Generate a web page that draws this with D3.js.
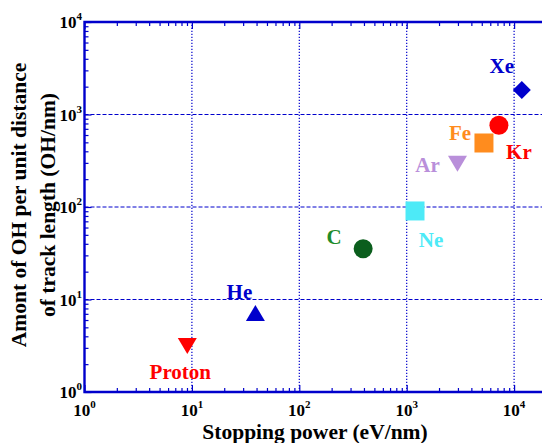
<!DOCTYPE html>
<html>
<head>
<meta charset="utf-8">
<script src="https://cdn.jsdelivr.net/npm/d3@7"></script>
<style>
  html, body { margin: 0; padding: 0; background: #fff; overflow: hidden; }
  svg { display: block; }
  text { font-family: "Liberation Serif", "Times New Roman", serif; font-weight: bold; }
</style>
</head>
<body>
<svg id="chart" width="542" height="443"></svg>
<script>
// ---- data ----
const ions = ["Proton", "He", "C", "Ne", "Ar", "Fe", "Kr", "Xe"];
const stoppingPower = [9.06, 39, 393, 1195, 2970, 5240, 7220, 11800];   // eV/nm
const ohPerDistance = [3.14, 7.15, 35.4, 90.6, 293, 492, 764, 1841];    // OH/nm
const markerShapes = ["triangleDown", "triangleUp", "circle", "square", "triangleDown", "square", "circle", "diamond"];
const markerColors = ["#ff0000", "#0000cc", "#0b5e1d", "#4deaf7", "#b98fda", "#ff8c1e", "#ff0000", "#0000cc"];
const labelColors  = ["#ff0000", "#0000cc", "#1e8c2a", "#4deaf7", "#b98fda", "#ff8c1e", "#ff0000", "#0000cc"];
const decadeTicks = [1, 10, 100, 1000, 10000];
const decadeExponents = ["0", "1", "2", "3", "4"];
const xTitle = "Stopping power (eV/nm)";
const yTitleLines = ["Amont of OH per unit distance", "of track length (OH/nm)"];

// ---- layout (not data) ----
const labelOffsets = [[-7, 33], [-16, -14], [-29, -5], [16, 36], [-30, 8], [-24, -3], [20, 34], [-20, -17]];
const blue = "#0000cc";

const svg = d3.select("#chart");
const x = d3.scaleLog().domain([1, 2e4]).range([84.5, 84.5 + 107.4 * Math.log10(2e4)]);
const y = d3.scaleLog().domain([1, 1e4]).range([392, 22]);
const [x0, x1] = x.range();
const [y0, y1] = y.range();

const minorX = [];
for (let d = 1; d < 2e4; d *= 10) for (let m = 2; m <= 9; m++) if (d * m <= 2e4) minorX.push(d * m);
const minorY = [];
for (let d = 1; d < 1e4; d *= 10) for (let m = 2; m <= 9; m++) minorY.push(d * m);

// grid lines
const grid = svg.append("g");
grid.selectAll("line.h").data(decadeTicks.filter(v => v > 1 && v < 1e4)).enter().append("line")
  .attr("x1", x0).attr("x2", x1).attr("y1", d => y(d)).attr("y2", d => y(d))
  .attr("stroke", blue).attr("stroke-width", 1).attr("stroke-dasharray", "4,2");
grid.selectAll("line.v").data(decadeTicks.filter(v => v > 1)).enter().append("line")
  .attr("y1", y0).attr("y2", y1).attr("x1", d => x(d)).attr("x2", d => x(d))
  .attr("stroke", blue).attr("stroke-width", 1.2).attr("stroke-dasharray", "1.2,1.8");

// axes ticks (inward)
function styleAxis(g) {
  g.select(".domain").remove();
  g.selectAll("line").attr("stroke", blue).attr("stroke-width", 1.2);
}
svg.append("g").attr("transform", `translate(0,${y0})`)
  .call(d3.axisBottom(x).tickValues(minorX).tickSize(-4).tickFormat("")).call(styleAxis);
svg.append("g").attr("transform", `translate(0,${y0})`)
  .call(d3.axisBottom(x).tickValues(decadeTicks).tickSize(-7).tickFormat("")).call(styleAxis);
svg.append("g").attr("transform", `translate(0,${y1})`)
  .call(d3.axisTop(x).tickValues(minorX).tickSize(-4).tickFormat("")).call(styleAxis);
svg.append("g").attr("transform", `translate(0,${y1})`)
  .call(d3.axisTop(x).tickValues(decadeTicks).tickSize(-7).tickFormat("")).call(styleAxis);
svg.append("g").attr("transform", `translate(${x0},0)`)
  .call(d3.axisLeft(y).tickValues(minorY).tickSize(-4).tickFormat("")).call(styleAxis);
svg.append("g").attr("transform", `translate(${x0},0)`)
  .call(d3.axisLeft(y).tickValues(decadeTicks).tickSize(-7).tickFormat("")).call(styleAxis);

// frame
svg.append("path")
  .attr("d", `M${x1},${y1} L${x0},${y1} L${x0},${y0} L${x1},${y0} Z`)
  .attr("fill", "none").attr("stroke", blue).attr("stroke-width", 2.4);

// tick labels
function addPow(sel, i) {
  sel.append("tspan").text("10").attr("font-size", 17);
  sel.append("tspan").text(decadeExponents[i]).attr("font-size", 11).attr("dy", -8);
}
decadeTicks.forEach((v, i) => {
  svg.append("text").attr("x", x(v)).attr("y", 415.5).attr("text-anchor", "middle").attr("fill", "#000")
    .call(s => addPow(s, i));
  svg.append("text").attr("x", 82).attr("y", y(v) + 6).attr("text-anchor", "end").attr("fill", "#000")
    .call(s => addPow(s, i));
});

// axis titles
svg.append("text").attr("x", 315).attr("y", 438.5).attr("text-anchor", "middle")
  .attr("font-size", 21.5).attr("fill", "#000").text(xTitle);
yTitleLines.forEach((t, i) => {
  svg.append("text").attr("transform", `translate(${26 + i * 29},205) rotate(-90)`)
    .attr("text-anchor", "middle").attr("font-size", 21.5).attr("fill", "#000").text(t);
});

// markers
function shapePath(kind) {
  const r = 9.5;
  switch (kind) {
    case "triangleDown": return `M${-r},${-8} L${r},${-8} L0,8 Z`;
    case "triangleUp": return `M${-r},8 L${r},8 L0,${-8} Z`;
    case "square": return `M${-r},${-r} L${r},${-r} L${r},${r} L${-r},${r} Z`;
    case "diamond": return `M0,-9 L9,0 L0,9 L-9,0 Z`;
    default: return `M${r},0 A${r},${r} 0 1,1 ${-r},0 A${r},${r} 0 1,1 ${r},0 Z`;
  }
}
const pts = ions.map((name, i) => ({ name, i, sx: stoppingPower[i], oh: ohPerDistance[i] }));
svg.append("g").selectAll("path").data(pts).enter().append("path")
  .attr("transform", d => `translate(${x(d.sx)},${y(d.oh)})`)
  .attr("d", d => shapePath(markerShapes[d.i]))
  .attr("fill", d => markerColors[d.i]);

svg.append("g").selectAll("text").data(pts).enter().append("text")
  .attr("x", d => x(d.sx) + labelOffsets[d.i][0])
  .attr("y", d => y(d.oh) + labelOffsets[d.i][1])
  .attr("text-anchor", "middle").attr("font-size", 21)
  .attr("fill", d => labelColors[d.i]).text(d => d.name);
</script>
</body>
</html>
